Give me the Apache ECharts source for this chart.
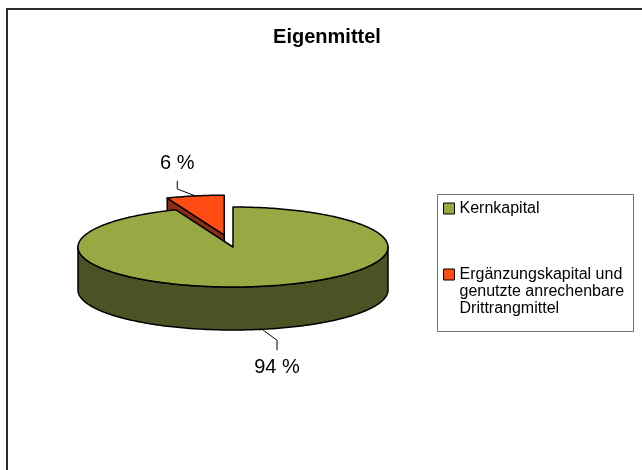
<!DOCTYPE html>
<html>
<head>
<meta charset="utf-8">
<script src="https://cdn.jsdelivr.net/npm/echarts@6/dist/echarts.min.js"></script>
<style>
html, body { margin: 0; padding: 0; background: #fff; }
#main { width: 642px; height: 470px; }
</style>
</head>
<body>
<div id="main"></div>
<script>
// Daten
var categories = ['Kernkapital', 'Ergänzungskapital und genutzte anrechenbare Drittrangmittel'];
var values = [94, 6];
// zwei Leerzeilen davor, damit das Symbol auf Hoehe der ersten Zeile sitzt
var legendLabels = ['Kernkapital', '\n\nErgänzungskapital und\ngenutzte anrechenbare\nDrittrangmittel'];

// Farben / Stil
var topColors = ['#99a843', '#ff4b14'];
var sideColors = ['#4b5223', '#8c2d0f'];
var explode = [0, 0.3];
// Leader-Linie: [dx, dy, vertikal]
var labelOffsets = [[15, 11, 10], [-18, -7, -8]];
var fontFamily = '"Liberation Sans", Arial, sans-serif';

// 3D-Torte: Mittelpunkt, Radien, Hoehe
var cx = 233, cy = 247, rx = 155, ry = 40, depth = 43;

var total = values.reduce(function (a, b) { return a + b; }, 0);

function pt(ox, oy, deg, dz) {
    var r = deg * Math.PI / 180;
    return [ox + rx * Math.sin(r), oy - ry * Math.cos(r) + (dz || 0)];
}
function arc(ox, oy, a0, a1, dz) {
    var pts = [];
    var n = Math.max(2, Math.ceil(Math.abs(a1 - a0)));
    for (var i = 0; i <= n; i++) {
        pts.push(pt(ox, oy, a0 + (a1 - a0) * i / n, dz));
    }
    return pts;
}

function renderSlice(k) {
    return function (params, api) {
        var before = 0;
        for (var i = 0; i < k; i++) before += values[i];
        var v = api.value(0);
        var a0 = before / total * 360;
        var a1 = (before + v) / total * 360;
        var mid = (a0 + a1) / 2;
        var mr = mid * Math.PI / 180;
        var ox = cx + explode[k] * rx * Math.sin(mr);
        var oy = cy - explode[k] * ry * Math.cos(mr);
        var base = Math.round((1 - Math.cos(mr)) * 10) * 4;
        var edge = { stroke: '#000', lineWidth: 1.5, lineJoin: 'round' };
        var children = [];

        // Mantel (nur vorne sichtbar)
        var s0 = Math.max(a0, 90), s1 = Math.min(a1, 270);
        if (s1 > s0) {
            children.push({
                type: 'polygon', z2: base,
                shape: { points: arc(ox, oy, s0, s1, 0).concat(arc(ox, oy, s1, s0, depth)) },
                style: Object.assign({ fill: sideColors[k] }, edge)
            });
        }
        // Schnittflaechen
        [[a0, Math.sin(a0 * Math.PI / 180) < -1e-6], [a1, Math.sin(a1 * Math.PI / 180) > 1e-6]].forEach(function (f) {
            if (!f[1]) return;
            var e = pt(ox, oy, f[0], 0);
            children.push({
                type: 'polygon', z2: base + 1,
                shape: { points: [[ox, oy], e, [e[0], e[1] + depth], [ox, oy + depth]] },
                style: Object.assign({ fill: sideColors[k] }, edge)
            });
        });
        // Deckel
        children.push({
            type: 'polygon', z2: base + 2,
            shape: { points: [[ox, oy]].concat(arc(ox, oy, a0, a1, 0)) },
            style: Object.assign({ fill: topColors[k] }, edge)
        });

        // Beschriftung mit Leader-Linie
        var front = Math.cos(mr) < 0;
        var p0 = pt(ox, oy, mid, front ? depth : 0);
        var o = labelOffsets[k];
        var p1 = [p0[0] + o[0], p0[1] + o[1]];
        var p2 = [p1[0], p1[1] + o[2]];
        children.push({
            type: 'polyline', z2: 100,
            shape: { points: [p0, p1, p2] },
            style: { stroke: '#000', lineWidth: 1, fill: null }
        });
        children.push({
            type: 'text', z2: 100,
            x: p2[0], y: p2[1] + (front ? 17 : -17),
            style: {
                text: v + ' %', fill: '#000', font: '20px ' + fontFamily,
                align: 'center', verticalAlign: 'middle'
            }
        });
        return { type: 'group', children: children };
    };
}

var myChart = echarts.init(document.getElementById('main'));
var option = {
    backgroundColor: '#fff',
    animation: false,
    title: {
        text: 'Eigenmittel',
        left: 327, top: 27, textAlign: 'center', padding: 0,
        textStyle: { fontFamily: fontFamily, fontSize: 20, fontWeight: 'bold', color: '#000' }
    },
    legend: {
        orient: 'vertical', left: 443, top: 200, padding: 0,
        itemGap: 15, itemWidth: 11, itemHeight: 11, icon: 'rect',
        selectedMode: false,
        itemStyle: { borderColor: '#000', borderWidth: 1 },
        textStyle: { fontFamily: fontFamily, fontSize: 16, color: '#000', lineHeight: 17 },
        formatter: function (name) { return legendLabels[categories.indexOf(name)]; },
        data: categories
    },
    graphic: [
        { type: 'polyline', shape: { points: [[7, 470], [7, 9], [642, 9]] }, style: { stroke: '#2b2b2b', lineWidth: 2, fill: null } },
        { type: 'rect', shape: { x: 437.5, y: 194.5, width: 196, height: 137 }, style: { fill: 'none', stroke: '#6f6f6f', lineWidth: 1 } }
    ],
    series: categories.map(function (name, k) {
        return {
            type: 'custom', name: name, coordinateSystem: 'none',
            silent: true,
            itemStyle: { color: topColors[k] },
            renderItem: renderSlice(k),
            data: [values[k]]
        };
    })
};
myChart.setOption(option);
</script>
</body>
</html>
